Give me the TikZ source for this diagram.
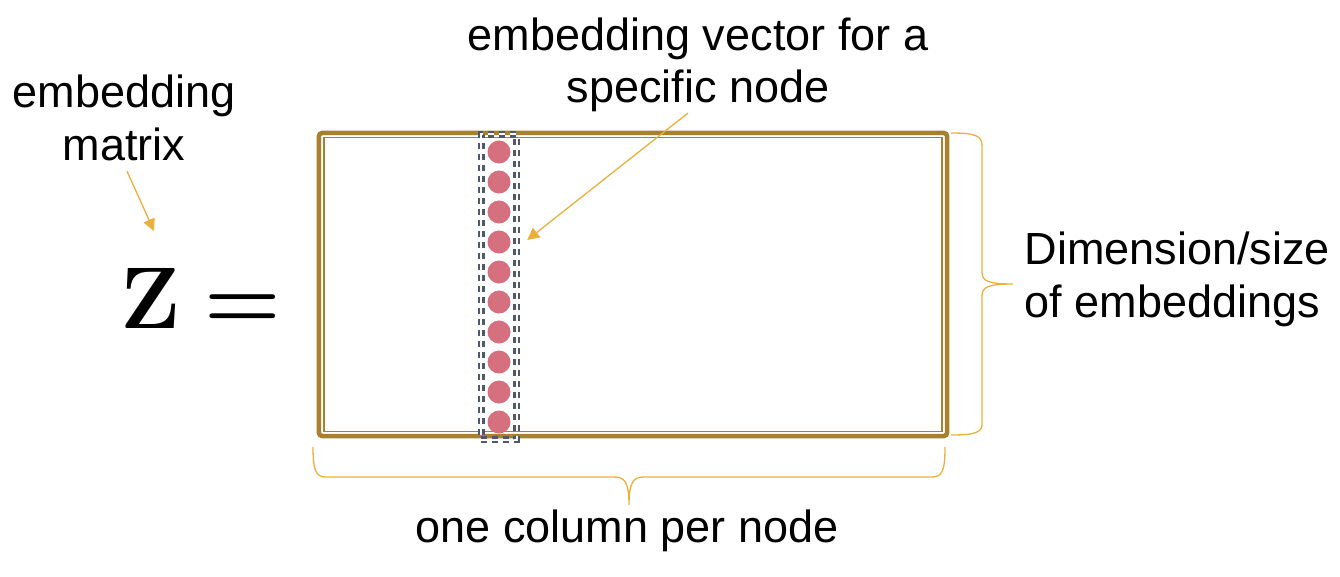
\documentclass[tikz,border=0pt]{standalone}
\usepackage{amsmath}
\usepackage[no-math]{fontspec}
\setmainfont{Liberation Sans}
\usepackage{xcolor}
\usetikzlibrary{arrows.meta,positioning,fit}

\definecolor{framegold}{RGB}{168,128,46}
\definecolor{slate}{RGB}{80,88,108}
\definecolor{dotpink}{RGB}{214,112,126}
\definecolor{amber}{RGB}{233,176,62}

\begin{document}
\begin{tikzpicture}[
    x=0.01cm, y=-0.01cm,
    lbl/.style={inner sep=0pt, align=center,
                font=\fontsize{12.8}{14.8}\selectfont},
    frame/.style={rectangle, draw=framegold, line width=0.045cm, rounded corners=1pt,
                  minimum width=6.28cm, minimum height=3.03cm, inner sep=0pt},
    framein/.style={rectangle, draw=framegold, line width=0.015cm,
                    minimum width=6.18cm, minimum height=2.94cm, inner sep=0pt},
    dot/.style={circle, fill=dotpink, minimum size=0.23cm, inner sep=0pt},
    column/.style={rectangle, draw=slate, double, double distance=0.018cm,
                   line width=0.024cm, dash pattern=on 0.06cm off 0.05cm,
                   inner sep=0.055cm},
    arr/.style={-{Triangle[length=0.12cm, width=0.12cm]}, draw=amber, fill=amber,
                line width=0.013cm},
    brace/.style={draw=amber, line width=0.013cm},
]
\useasboundingbox (0,0) rectangle (1340,576);

% Matrix frame
\node[frame] (mat) at (633,284.5) {};
\node[framein] (matin) at (mat.center) {};

% One column of the matrix
\foreach \i in {1,...,10}
    \node[dot] (c\i) at (499,{122+30*\i}) {};
\node[column, fit=(c1)(c10)] (col) {};

% Left hand side
\node[inner sep=0pt, anchor=base, font=\Huge] (zeq) at (201,328)
    {$\mathbf{Z} \mathrel{\boldsymbol{=}}$};
\node[lbl, anchor=base] (embmat) at (124,160) {embedding\\matrix};
\coordinate (ztip) at (154,231);

% Labels
\node[lbl, anchor=base] (vec) at (698,103) {embedding vector for a\\specific node};
\node[lbl, align=left, anchor=base west] (dims) at (1024,317)
    {Dimension/size\\of embeddings};
\node[lbl, anchor=base] (percol) at (627,542) {one column per node};

% Braces
\draw[brace] (951,133) .. controls (976,133) and (982,136) .. (982,146)
    -- (982,272) .. controls (982,281) and (988,284) .. (1013,284)
    .. controls (988,284) and (982,287) .. (982,296)
    -- (982,424) .. controls (982,432) and (976,435) .. (951,435);
\draw[brace] (313,447) .. controls (313,471) and (316,477) .. (326,477)
    -- (614,477) .. controls (624,477) and (629,481) .. (629,505)
    .. controls (629,481) and (634,477) .. (644,477)
    -- (932,477) .. controls (942,477) and (945,471) .. (945,447);

% Arrows
\draw[arr] ([shift={(3,10)}]embmat.south) -- (ztip);
\draw[arr] ([shift={(-10,0)}]vec.south) -- ([shift={(16,-2)}]c4.east);

\end{tikzpicture}
\end{document}
